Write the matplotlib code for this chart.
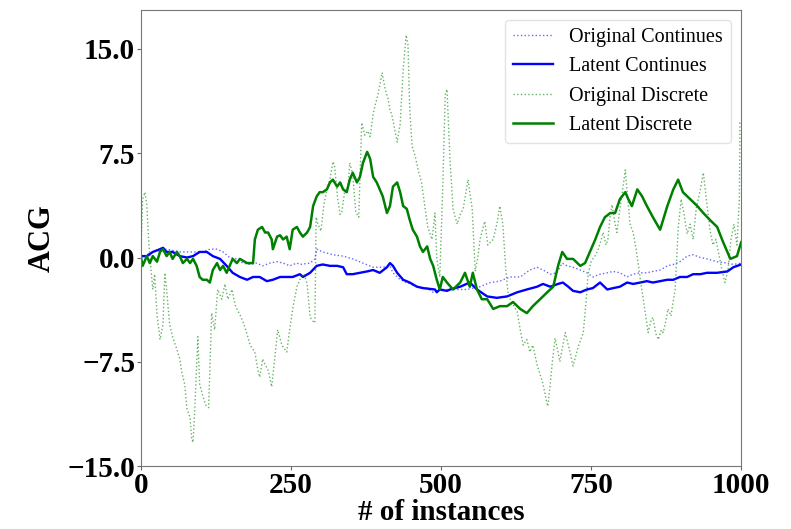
import matplotlib
matplotlib.use("Agg")
import matplotlib.pyplot as plt

# valeurs (x = nombre d'instances, y = ACG)
orig_cont_x = [0, 20, 43, 65, 87, 103, 115, 127, 137, 148, 160, 170, 182, 193, 203, 215, 227, 237,
               248, 260, 265, 282, 290, 293, 303, 320, 337, 353, 370, 387, 403, 415, 420, 432, 443,
               460, 477, 487, 498, 510, 520, 543, 565, 582, 598, 615, 632, 648, 660, 670, 682, 693,
               702, 710, 720, 732, 743, 753, 765, 777, 787, 798, 810, 820, 832, 843, 853, 865, 877,
               887, 898, 910, 920, 932, 943, 960, 977, 987, 1000]
orig_cont_y = [0.0, 0.4, 0.6, 0.4, 0.4, 0.4, 0.6, 0.6, 0.4, 0.0, -0.1, -0.4, -0.5, -0.4, -0.6, -0.4,
               -0.3, -0.4, -0.6, -0.4, -0.5, -0.4, -0.1, 0.6, 0.4, 0.2, 0.1, -0.1, -0.4, -0.7, -0.7,
               -0.6, -1.1, -1.6, -1.8, -2.1, -2.2, -2.5, -2.3, -2.3, -2.3, -2.3, -2.1, -1.8, -1.7,
               -1.4, -1.4, -0.9, -0.7, -0.9, -1.2, -1.1, -0.4, -0.6, -0.7, -0.9, -1.1, -1.4, -1.2,
               -1.1, -1.0, -1.1, -1.4, -1.2, -1.1, -1.1, -1.0, -0.9, -0.6, -0.5, -0.3, 0.1, 0.2, 0.0,
               -0.1, -0.3, -0.4, -0.5, -0.4]

lat_cont_x = [0, 10, 20, 32, 37, 43, 53, 65, 77, 87, 98, 110, 120, 132, 143, 153, 165, 177, 187,
              198, 210, 220, 232, 243, 253, 265, 270, 282, 293, 303, 315, 327, 337, 343, 353, 365,
              377, 387, 398, 410, 415, 420, 427, 437, 448, 460, 470, 490, 493, 498, 510, 515, 532,
              548, 560, 577, 593, 610, 627, 643, 660, 670, 682, 695, 703, 712, 720, 732, 743, 753,
              765, 777, 787, 798, 810, 820, 832, 843, 853, 865, 877, 887, 898, 910, 920, 932, 943,
              960, 977, 987, 1000]
lat_cont_y = [0.1, 0.1, 0.4, 0.6, 0.7, 0.4, 0.4, 0.1, 0.0, 0.1, 0.4, 0.4, 0.1, -0.1, -0.6, -1.1,
              -1.4, -1.6, -1.4, -1.4, -1.7, -1.6, -1.4, -1.4, -1.4, -1.2, -1.4, -1.1, -0.6, -0.5,
              -0.6, -0.6, -0.7, -1.2, -1.2, -1.1, -1.0, -0.9, -1.1, -0.7, -0.4, -0.6, -1.1, -1.6,
              -1.8, -2.1, -2.2, -2.3, -2.5, -2.3, -2.4, -2.3, -2.1, -1.8, -2.3, -2.8, -2.9, -2.8,
              -2.5, -2.3, -2.1, -1.9, -2.1, -1.9, -1.8, -2.1, -2.4, -2.5, -2.3, -2.2, -1.8, -2.3,
              -2.2, -2.1, -1.8, -1.9, -1.8, -1.7, -1.8, -1.7, -1.6, -1.6, -1.4, -1.4, -1.2, -1.2,
              -1.1, -1.1, -1.0, -0.7, -0.5]

orig_disc_x = [0, 3, 7, 10, 13, 17, 20, 23, 27, 32, 37, 40, 43, 48, 53, 60, 65, 68, 73, 77, 82, 85,
               87, 90, 95, 98, 103, 108, 113, 118, 123, 128, 135, 140, 145, 152, 157, 160, 165, 170,
               177, 182, 190, 195, 198, 203, 207, 212, 218, 223, 228, 235, 243, 248, 253, 260, 265,
               272, 277, 282, 287, 290, 292, 295, 300, 305, 310, 315, 320, 323, 328, 332, 335, 340,
               345, 348, 353, 358, 363, 368, 373, 378, 382, 387, 390, 395, 402, 407, 412, 415, 418,
               422, 427, 432, 437, 442, 445, 448, 452, 457, 462, 468, 473, 478, 485, 490, 493, 498,
               503, 507, 510, 515, 520, 527, 532, 537, 545, 552, 557, 562, 565, 573, 578, 587, 593,
               598, 603, 608, 612, 620, 627, 632, 637, 643, 648, 653, 660, 665, 670, 675, 678, 682,
               685, 690, 695, 698, 703, 707, 712, 715, 720, 725, 728, 733, 737, 742, 745, 750, 753,
               758, 762, 767, 770, 775, 778, 782, 785, 790, 793, 798, 802, 807, 812, 815, 820, 825,
               828, 833, 837, 842, 845, 850, 853, 858, 862, 867, 870, 875, 878, 883, 890, 895, 900,
               905, 910, 915, 920, 925, 932, 937, 942, 948, 953, 958, 963, 968, 973, 978, 983, 988,
               993, 997, 998, 1000]
orig_disc_y = [0.0, 4.2, 4.7, 3.8, 1.3, -0.9, -2.3, -1.2, -4.1, -5.9, -4.8, -1.1, -2.3, -4.8, -5.7,
               -6.6, -7.3, -8.2, -9.1, -10.9, -11.5, -13.1, -13.3, -10.9, -5.7, -9.1, -9.9, -10.6,
               -10.8, -4.0, -5.2, -2.3, -3.0, -1.9, -3.0, -2.3, -3.4, -3.7, -4.1, -4.6, -5.5, -6.3,
               -6.8, -8.1, -8.6, -7.3, -7.7, -8.1, -9.3, -7.3, -5.2, -6.3, -6.8, -5.2, -3.7, -2.1,
               -1.6, -1.2, -1.9, -4.3, -4.6, -4.7, 2.9, 2.4, 1.9, 3.8, 4.9, 5.6, 6.9, 6.5, 4.2, 3.1,
               3.3, 4.9, 5.0, 6.8, 6.0, 3.3, 2.9, 9.7, 8.8, 9.1, 8.7, 10.3, 10.9, 11.7, 13.3, 12.1,
               11.4, 10.6, 10.3, 9.4, 8.3, 9.6, 13.5, 16.0, 15.3, 10.6, 8.0, 7.3, 6.3, 5.3, 3.7, 2.2,
               1.3, 3.2, -0.1, -1.4, 5.1, 11.7, 12.1, 7.1, 3.5, 2.4, 3.1, 3.5, 5.6, 3.5, -1.0, 0.2,
               1.3, 2.6, 0.9, 1.3, 2.4, 3.7, 2.4, -0.9, -2.7, -3.4, -3.9, -5.2, -6.3, -5.9, -6.8,
               -6.3, -7.7, -8.4, -9.1, -10.2, -10.7, -9.1, -7.7, -5.8, -6.8, -7.5, -6.3, -5.4, -6.3,
               -6.8, -7.8, -7.0, -6.5, -5.9, -5.4, -3.0, -1.2, -0.3, -0.1, 0.2, 0.6, 1.3, 1.8, 0.9,
               1.3, 3.1, 3.8, 2.4, 1.8, 3.5, 4.7, 6.3, 3.8, 2.4, 1.8, 0.6, -0.3, -1.9, -3.0, -4.5,
               -5.4, -4.5, -4.3, -5.5, -5.9, -5.2, -5.4, -4.5, -3.7, -4.2, -2.3, 2.0, 4.2, 3.1, 1.7,
               2.4, 1.3, 3.5, 4.9, 6.1, 4.2, 2.0, 0.9, 1.3, 0.2, -0.9, -1.8, -0.9, 1.3, 2.4, 0.9,
               4.2, 9.7, 9.7]

lat_disc_x = [0, 3, 10, 15, 20, 27, 32, 37, 43, 48, 53, 60, 65, 70, 77, 82, 87, 93, 98, 103, 110,
              115, 120, 127, 132, 137, 143, 148, 153, 160, 165, 177, 187, 190, 195, 202, 207, 212,
              218, 220, 227, 232, 237, 243, 248, 253, 260, 265, 270, 277, 282, 287, 293, 298, 303,
              310, 315, 320, 327, 332, 337, 343, 348, 353, 360, 365, 370, 377, 382, 387, 393, 398,
              403, 410, 415, 420, 427, 432, 437, 443, 448, 453, 460, 465, 470, 477, 482, 487, 493,
              498, 503, 510, 520, 532, 540, 548, 553, 560, 568, 577, 587, 598, 610, 620, 632, 643,
              653, 665, 677, 687, 695, 702, 710, 720, 732, 740, 748, 757, 765, 773, 782, 790, 798,
              807, 812, 818, 827, 835, 843, 853, 865, 877, 887, 895, 903, 915, 927, 937, 948, 960,
              970, 982, 993, 1000]
lat_disc_y = [0.1, -0.6, 0.1, -0.4, 0.1, -0.3, 0.4, 0.6, 0.1, 0.4, -0.1, 0.4, 0.1, -0.4, -0.1,
              -0.4, -0.1, -0.6, -1.4, -1.6, -1.6, -1.8, -0.9, -0.4, -0.9, -0.6, -1.1, -0.6, -0.1,
              -0.4, -0.1, -0.4, -0.4, 1.3, 2.0, 2.2, 1.8, 1.8, 1.3, 0.6, 1.5, 1.6, 1.3, 1.5, 0.6,
              2.0, 2.2, 1.8, 1.5, 1.8, 2.2, 3.7, 4.4, 4.7, 4.7, 4.9, 5.4, 5.6, 5.1, 5.4, 4.9, 4.7,
              5.6, 6.1, 5.4, 5.8, 6.8, 7.6, 7.1, 5.8, 5.4, 4.9, 4.4, 3.2, 3.7, 5.1, 5.4, 4.7, 3.7,
              3.5, 2.7, 2.0, 1.5, 0.8, 0.4, 0.8, -0.1, -0.6, -1.6, -2.3, -1.4, -1.8, -2.3, -1.8,
              -1.1, -2.1, -1.1, -2.3, -3.0, -3.0, -3.7, -3.5, -3.5, -3.2, -3.7, -4.0, -3.5, -3.0,
              -2.5, -2.1, -0.6, 0.4, -0.1, -0.1, -0.6, -0.4, 0.4, 1.3, 2.2, 2.9, 3.2, 3.2, 4.2,
              4.7, 4.2, 3.7, 4.9, 4.4, 3.7, 2.9, 2.0, 3.7, 4.9, 5.6, 4.7, 4.2, 3.7, 3.2, 2.7, 2.2,
              1.1, -0.1, 0.1, 1.1]

plt.rcParams['font.family'] = ['Liberation Serif', 'DejaVu Serif']

fig = plt.figure(figsize=(7.91, 5.29), dpi=100)
ax = fig.add_axes([0.178, 0.119, 0.759, 0.862])

ax.plot(orig_cont_x, orig_cont_y, linestyle=':', color='blue', alpha=0.6, linewidth=1.0,
        label='Original Continues')
ax.plot(lat_cont_x, lat_cont_y, linestyle='-', color='blue', linewidth=1.7, label='Latent Continues')
ax.plot(orig_disc_x, orig_disc_y, linestyle=':', color='green', alpha=0.6, linewidth=1.0,
        label='Original Discrete')
ax.plot(lat_disc_x, lat_disc_y, linestyle='-', color='green', linewidth=1.8, label='Latent Discrete')

ax.set_xlim(0, 1000)
ax.set_ylim(-15, 17.8)
ax.set_xticks([0, 250, 500, 750, 1000])
ax.set_yticks([-15.0, -7.5, 0.0, 7.5, 15.0])
ax.set_yticklabels(['\u221215.0', '\u22127.5', '0.0', '7.5', '15.0'])
for lab in ax.get_xticklabels() + ax.get_yticklabels():
    lab.set_fontweight('bold')
    lab.set_fontsize(21)
ax.tick_params(length=3, color='#666666', pad=1)
for sp in ax.spines.values():
    sp.set_color('#777777')

ax.set_xlabel('# of instances', fontsize=21, fontweight='bold', labelpad=0)
ax.set_ylabel('ACG', fontsize=22, fontweight='bold', labelpad=8)

ax.legend(loc='upper right', fontsize=14.5, framealpha=0.8, edgecolor='#dddddd')

plt.savefig('out.png', dpi=100)
